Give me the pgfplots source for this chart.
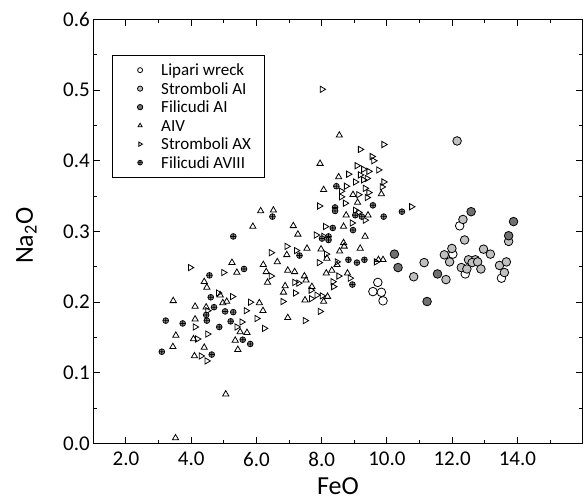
\documentclass[border=0pt]{standalone}
\usepackage{fontspec}
\setmainfont{Carlito}
\usepackage{pgfplots}
\pgfplotsset{compat=1.18}

\definecolor{stromgray}{HTML}{C0C0C0}
\definecolor{filgray}{HTML}{707070}
\definecolor{avgray}{HTML}{858585}

\begin{document}
\begin{tikzpicture}
\begin{axis}[
    name=ax,
    scale only axis,
    width=489.4pt, height=424.4pt,
    xmin=1, xmax=16, ymin=0, ymax=0.6,
    xtick={2,4,...,14}, minor xtick={3,5,...,15},
    ytick={0,0.1,...,0.6}, minor ytick={0.05,0.15,...,0.55},
    tick align=inside,
    major tick length=7pt, minor tick length=3.5pt,
    axis line style={line width=1.2pt},
    every tick/.style={black, line width=1pt},
    /pgf/number format/.cd, fixed, fixed zerofill, precision=1, assume math mode=true,
    /pgfplots/.cd,
    ticklabel style={font=\fontsize{21}{21}\selectfont},
    xticklabel style={yshift=-5pt},
    xlabel={FeO}, ylabel={Na\textsubscript{2}O},
    every axis x label/.style={at={(rel axis cs:0.5,0)}, yshift=-51pt, anchor=base, inner sep=0pt, text depth=0pt, font=\fontsize{26}{26}\selectfont},
    every axis y label/.style={at={(rel axis cs:0,0.49)}, xshift=-60.3pt, rotate=90, anchor=base, inner sep=0pt, text depth=0pt, font=\fontsize{26}{26}\selectfont},
    legend cell align=left,
    legend image code/.code={\path (-14.6pt,0pt) (20.7pt,0pt); \draw[#1] plot coordinates {(0pt,0pt)};},
    legend style={at={(0,1)}, anchor=north west, xshift=18.4pt, yshift=-35.7pt,
        draw=black, line width=0.8pt, inner xsep=13pt, inner ysep=5.5pt,
        row sep=0pt, font=\fontsize{17}{17}\selectfont,
        nodes={inner xsep=0pt, inner ysep=0pt, text height=14.75pt, text depth=3.75pt}},
]
% legend entries (smaller marks, as in the reference)
\addlegendimage{only marks, mark=*, mark size=2.5pt, draw=black, fill=white, line width=0.8pt}
\addlegendentry{Lipari wreck}
\addlegendimage{only marks, mark=*, mark size=2.6pt, draw=black, fill=stromgray, line width=0.8pt}
\addlegendentry{Stromboli AI}
\addlegendimage{only marks, mark=*, mark size=2.7pt, draw=black, fill=filgray, line width=0.8pt}
\addlegendentry{Filicudi AI}
\addlegendimage{only marks, mark=triangle, mark size=2.4pt, draw=black, line width=0.8pt}
\addlegendentry{AIV}
\addlegendimage{only marks, mark=triangle, mark options={rotate=-90}, mark size=2.4pt, draw=black, line width=0.8pt}
\addlegendentry{Stromboli AX}
\addlegendimage{only marks, mark=oplus*, mark size=2.4pt, draw=black, fill=avgray, line width=0.7pt}
\addlegendentry{Filicudi AVIII}

% AIV
\addplot[forget plot, only marks, mark=triangle, mark size=3.6pt, draw=black, line width=0.8pt] coordinates {
(5.25,0.256)(5.40,0.242)(4.40,0.229)(4.48,0.221)(4.89,0.210)(3.45,0.202)(4.12,0.194)(4.46,0.193)
(4.97,0.199)(5.09,0.201)(6.09,0.199)(4.12,0.176)(5.50,0.158)(5.71,0.157)(3.53,0.153)(4.07,0.148)
(5.35,0.146)(5.43,0.133)(3.44,0.137)(4.10,0.124)(4.40,0.136)(5.06,0.070)(3.52,0.008)
(8.54,0.436)(7.95,0.396)(8.52,0.377)(8.06,0.359)(8.96,0.352)(9.83,0.353)(9.10,0.341)(8.75,0.323)
(9.42,0.323)(6.13,0.329)(6.52,0.330)(5.89,0.307)(7.13,0.308)(7.27,0.296)(8.67,0.307)(9.33,0.293)
(7.55,0.276)(6.93,0.267)(6.64,0.257)(7.98,0.275)(8.67,0.284)(8.69,0.279)(9.18,0.276)(9.74,0.260)
(9.88,0.260)(6.21,0.253)(6.96,0.245)(7.17,0.243)
(8.55,0.272)(8.16,0.262)(8.47,0.253)(6.30,0.243)(6.34,0.228)(7.47,0.237)(7.52,0.231)(6.88,0.223)
(6.83,0.214)(7.70,0.222)(7.49,0.203)(8.06,0.201)(8.18,0.208)(8.14,0.241)(8.31,0.245)(8.79,0.241)
(6.96,0.178)(6.20,0.188)
};
% Stromboli AX
\addplot[forget plot, only marks, mark=triangle, mark options={rotate=-90}, mark size=3.6pt, draw=black, line width=0.8pt] coordinates {
(3.97,0.249)(4.99,0.242)(4.83,0.213)(5.26,0.208)(4.50,0.188)(5.68,0.188)(5.81,0.200)(6.01,0.177)
(4.12,0.165)(4.50,0.155)(5.55,0.172)(5.40,0.165)(4.19,0.148)(4.30,0.124)(4.48,0.117)
(8.01,0.501)(9.90,0.423)(9.18,0.416)(9.54,0.406)(9.59,0.400)(9.08,0.393)(9.28,0.388)(9.44,0.385)
(9.74,0.387)(8.82,0.381)(9.18,0.380)(9.39,0.375)(9.03,0.370)(9.28,0.373)(9.90,0.370)(8.75,0.364)
(9.85,0.363)(8.60,0.357)(9.33,0.361)(9.44,0.355)(9.13,0.352)(8.60,0.349)(9.39,0.348)(7.93,0.336)
(8.72,0.340)(9.03,0.330)(9.13,0.327)(9.33,0.316)(10.75,0.335)(8.93,0.312)(7.83,0.295)(8.11,0.307)
(8.06,0.293)(6.93,0.279)(7.22,0.273)(6.45,0.270)(8.14,0.268)(7.92,0.256)(8.47,0.257)(9.67,0.257)
(6.45,0.237)(7.17,0.228)(7.29,0.227)(7.19,0.213)(7.67,0.217)(7.85,0.210)(7.68,0.205)(8.01,0.209)
(6.81,0.201)(8.52,0.237)(8.87,0.234)(8.34,0.229)(8.36,0.222)(7.95,0.187)(7.49,0.174)(6.24,0.163)
};
% Filicudi AVIII
\addplot[forget plot, only marks, mark=oplus*, mark size=2.9pt, draw=black, fill=avgray, line width=0.7pt] coordinates {
(5.62,0.247)(4.56,0.238)(4.60,0.207)(4.70,0.193)(4.46,0.182)(5.04,0.187)(5.29,0.186)(3.22,0.174)
(3.74,0.170)(4.48,0.174)(4.86,0.165)(5.21,0.173)(5.58,0.147)(5.81,0.141)(3.10,0.130)(4.63,0.126)
(5.29,0.293)
(8.45,0.364)(8.41,0.334)(8.41,0.329)(9.57,0.337)(9.03,0.323)(9.23,0.321)(9.90,0.321)(10.46,0.328)
(6.49,0.321)(8.96,0.302)(8.34,0.305)(8.01,0.290)(8.21,0.293)(8.21,0.288)(7.32,0.266)(8.82,0.260)
(9.08,0.256)(9.31,0.260)(8.94,0.225)
};
% Lipari wreck
\addplot[forget plot, only marks, mark=*, mark size=4.3pt, draw=black, fill=white, line width=0.8pt] coordinates {
(9.72,0.228)(9.57,0.215)(9.83,0.214)(9.88,0.202)(12.23,0.308)(12.02,0.268)(12.40,0.240)(13.51,0.234)
};
% Stromboli AI
\addplot[forget plot, only marks, mark=*, mark size=4.3pt, draw=black, fill=stromgray, line width=0.8pt] coordinates {
(10.82,0.236)(12.33,0.317)(12.38,0.288)(13.73,0.286)(11.99,0.276)(11.76,0.267)(11.92,0.257)(11.14,0.256)
(12.96,0.275)(13.17,0.268)(12.50,0.260)(12.71,0.260)(12.61,0.256)(12.78,0.257)(12.28,0.249)(12.45,0.247)
(12.88,0.247)(13.45,0.252)(13.66,0.257)(13.60,0.242)(11.81,0.232)(12.15,0.428)
};
% Filicudi AI
\addplot[forget plot, only marks, mark=*, mark size=4.3pt, draw=black, fill=filgray, line width=0.8pt] coordinates {
(10.23,0.268)(10.34,0.249)(12.58,0.328)(13.88,0.314)(13.73,0.294)(11.55,0.240)(11.23,0.201)
};
\end{axis}
\pgfresetboundingbox
\path[use as bounding box] ([xshift=-93.3pt,yshift=-59.3pt]ax.south west) rectangle ([xshift=1.3pt,yshift=19.3pt]ax.north east);
\end{tikzpicture}
\end{document}
